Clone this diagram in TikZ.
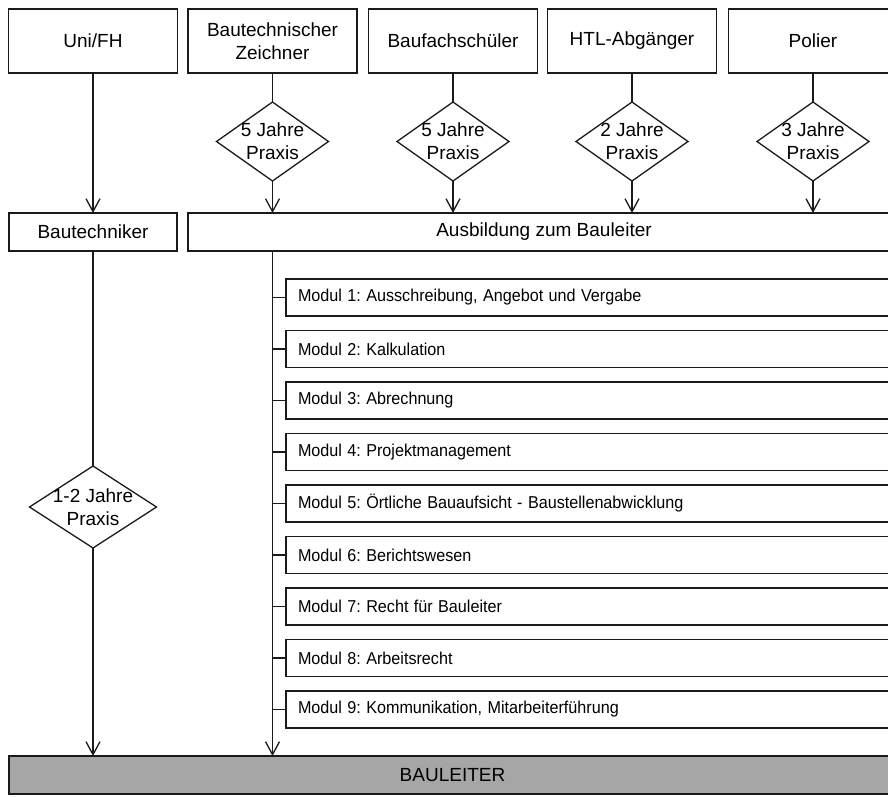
\documentclass[tikz,border=0pt]{standalone}
\usepackage{fontspec}
\setmainfont{Liberation Sans}
\usetikzlibrary{shapes.geometric,arrows.meta}
\definecolor{linec}{HTML}{1A1A1A}
\definecolor{blfill}{HTML}{A6A6A6}
\frenchspacing
\newcommand\modtxt[1]{\scalebox{0.94}[1]{#1}}
\begin{document}
\begin{tikzpicture}[x=1pt,y=-1pt,
  every node/.style={text=black},
  topbox/.style={draw=linec, line width=1.3pt, rectangle, minimum width=169pt, minimum height=64pt, inner sep=0, outer sep=0, align=center, font=\fontsize{19}{23.5}\selectfont},
  midbox/.style={draw=linec, line width=1.3pt, rectangle, minimum height=38pt, inner sep=0, outer sep=0, align=center, font=\fontsize{19}{23}\selectfont},
  modbox/.style={draw=linec, line width=1.3pt, rectangle, minimum height=37pt, text width=590pt, inner xsep=12pt, inner ysep=0, outer sep=0, align=left, anchor=west, font=\fontsize{17.2}{19}\selectfont},
  dia/.style={draw=linec, line width=1.3pt, diamond, inner sep=0, outer sep=0, minimum width=112pt, minimum height=79pt},
  dlabel/.style={font=\fontsize{19}{23}\selectfont, align=center, inner sep=0},
  conn/.style={draw=linec, line width=1.3pt},
  arr/.style={conn, -{Straight Barb[length=13pt,width=14pt,line width=1.3pt]}}
]
\useasboundingbox (0,0) rectangle (888,796);
\clip (0,0) rectangle (888,796);

% top row
\node[topbox] (uni) at (93,41) {Uni/FH};
\node[topbox] (bz) at (272.5,41) {Bautechnischer\\Zeichner};
\node[topbox] (bf) at (453,41) {Baufachschüler};
\node[topbox] (htl) at (632,41) {HTL-Abgänger};
\node[topbox] (pol) at (813,41) {Polier};

% diamonds
\node[dia, label={[dlabel]center:5 Jahre\\Praxis}] (d2) at (272.5,141.5) {};
\node[dia, label={[dlabel]center:5 Jahre\\Praxis}] (d3) at (453,141.5) {};
\node[dia, label={[dlabel]center:2 Jahre\\Praxis}] (d4) at (632,141.5) {};
\node[dia, label={[dlabel]center:3 Jahre\\Praxis}] (d5) at (813,141.5) {};

% middle row
\node[midbox, minimum width=168pt] (bt) at (93,232) {Bautechniker};
\node[midbox, minimum width=712pt] (aus) at (544,232) {Ausbildung zum Bauleiter};

% left diamond
\node[dia, minimum width=127pt, minimum height=82pt, label={[dlabel]center:1-2 Jahre\\Praxis}] (d0) at (93,507) {};

% modules
\node[modbox] (m1) at (286,297.5) {\modtxt{Modul 1: Ausschreibung, Angebot und Vergabe}};
\node[modbox] (m2) at (286,349) {\modtxt{Modul 2: Kalkulation}};
\node[modbox] (m3) at (286,400.5) {\modtxt{Modul 3: Abrechnung}};
\node[modbox] (m4) at (286,452) {\modtxt{Modul 4: Projektmanagement}};
\node[modbox] (m5) at (286,503.5) {\modtxt{Modul 5: Örtliche Bauaufsicht - Baustellenabwicklung}};
\node[modbox] (m6) at (286,555) {\modtxt{Modul 6: Berichtswesen}};
\node[modbox] (m7) at (286,606.5) {\modtxt{Modul 7: Recht für Bauleiter}};
\node[modbox] (m8) at (286,658) {\modtxt{Modul 8: Arbeitsrecht}};
\node[modbox] (m9) at (286,709.5) {\modtxt{Modul 9: Kommunikation, Mitarbeiterführung}};

% bottom
\node[midbox, fill=blfill, minimum width=887pt] (bl) at (452.5,775) {BAULEITER};

% connectors: left branch
\draw[arr] (uni.south) -- (bt.north);
\draw[conn] (bt.south) -- (d0.north);
\draw[arr] (d0.south) -- (d0 |- bl.north);

% connectors: top to diamonds to Ausbildung
\draw[conn] (bz.south) -- (d2.north);
\draw[conn] (bf.south) -- (d3.north);
\draw[conn] (htl.south) -- (d4.north);
\draw[conn] (pol.south) -- (d5.north);
\draw[arr] (d2.south) -- (d2 |- aus.north);
\draw[arr] (d3.south) -- (d3 |- aus.north);
\draw[arr] (d4.south) -- (d4 |- aus.north);
\draw[arr] (d5.south) -- (d5 |- aus.north);

% trunk and module branches
\draw[arr] (d2 |- aus.south) -- (d2 |- bl.north);
\foreach \m in {m1,m2,m3,m4,m5,m6,m7,m8,m9}{
  \draw[conn] (d2 |- \m.west) -- (\m.west);
}
\end{tikzpicture}
\end{document}
